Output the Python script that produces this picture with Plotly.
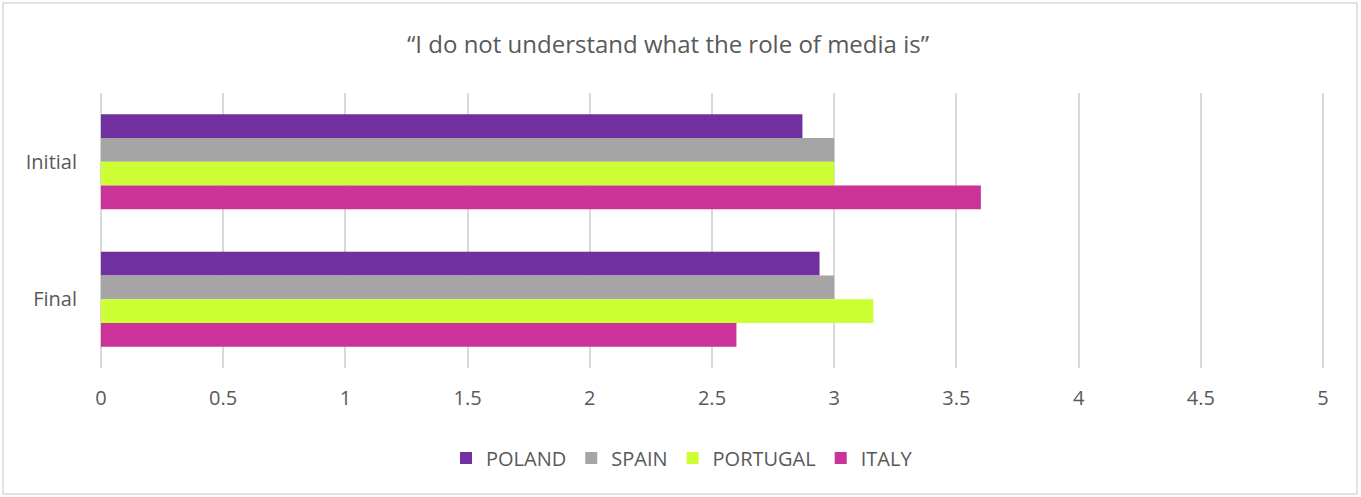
import plotly.graph_objects as go

# Survey stages (y categories) and mean scores per country
stages = ["Initial", "Final"]
poland = [2.87, 2.94]
spain = [3.0, 3.0]
portugal = [3.0, 3.16]
italy = [3.6, 2.6]

series = [
    ("POLAND", poland, "#7030A0"),
    ("SPAIN", spain, "#A5A5A5"),
    ("PORTUGAL", portugal, "#CCFF33"),
    ("ITALY", italy, "#CC3399"),
]

x_ticks = [0, 0.5, 1, 1.5, 2, 2.5, 3, 3.5, 4, 4.5, 5]
x_tick_labels = ["0", "0.5", "1", "1.5", "2", "2.5", "3", "3.5", "4", "4.5", "5"]

FONT = "Open Sans, Liberation Sans, sans-serif"
TEXT = "#595959"

fig = go.Figure()
for name, vals, color in series:
    fig.add_trace(go.Bar(
        y=stages, x=vals, name=name, orientation="h",
        marker=dict(color=color, line=dict(width=0)),
    ))

W, H = 1361, 497
L, R, T, B = 98, 35, 93, 129
pw, ph = W - L - R, H - T - B

def px_to_paper_x(px):
    return (px - L) / pw

def px_to_paper_y(py):
    return (H - B - py) / ph

fig.update_layout(
    width=W, height=H,
    margin=dict(l=L, r=R, t=T, b=B),
    paper_bgcolor="white", plot_bgcolor="white",
    barmode="group", bargap=0.31, bargroupgap=0,
    font=dict(family=FONT, color=TEXT, size=20),
    title=dict(
        text="\u201cI do not understand what the role of media is\u201d",
        x=px_to_paper_x(668), xref="paper", xanchor="center",
        y=1 - 45 / H, yref="container", yanchor="middle",
        font=dict(family=FONT, size=24, color=TEXT),
    ),
    xaxis=dict(
        range=[-0.012, 5.012], tickvals=x_ticks, ticktext=x_tick_labels,
        showgrid=True, gridcolor="#D9D9D9", gridwidth=2,
        zeroline=False, showline=False, ticks="", ticklabelstandoff=16,
        tickfont=dict(family=FONT, size=20, color=TEXT),
    ),
    yaxis=dict(
        autorange="reversed", showgrid=False, zeroline=False,
        showline=False, ticks="", ticklabelstandoff=20,
        tickfont=dict(family=FONT, size=20, color=TEXT),
    ),
    legend=dict(
        orientation="h", x=px_to_paper_x(682), xanchor="center",
        y=px_to_paper_y(458), yanchor="middle",
        font=dict(family=FONT, size=20, color=TEXT),
        itemwidth=30, traceorder="normal",
    ),
    showlegend=True,
    shapes=[dict(
        type="rect", xref="paper", yref="paper",
        x0=px_to_paper_x(3), x1=px_to_paper_x(1357),
        y0=px_to_paper_y(494), y1=px_to_paper_y(3),
        line=dict(color="#D9D9D9", width=1.5), fillcolor="rgba(0,0,0,0)",
        layer="below",
    )],
)

fig.write_html("out.html")
